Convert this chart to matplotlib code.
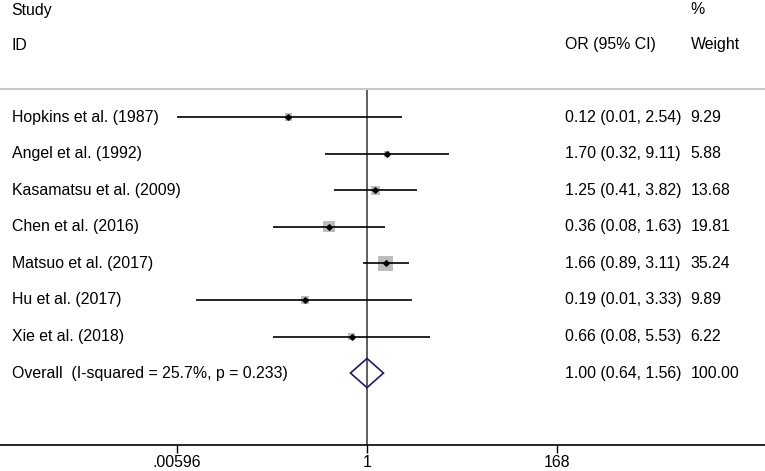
import numpy as np
import matplotlib
matplotlib.use("Agg")
import matplotlib.pyplot as plt
import matplotlib.ticker as ticker
from matplotlib.patches import Polygon
from matplotlib.transforms import blended_transform_factory

plt.rcParams['font.family'] = ['Liberation Sans', 'DejaVu Sans']

# --- data ---
studies = ["Hopkins et al. (1987)", "Angel et al. (1992)", "Kasamatsu et al. (2009)",
           "Chen et al. (2016)", "Matsuo et al. (2017)", "Hu et al. (2017)",
           "Xie et al. (2018)"]
or_est = [0.12, 1.70, 1.25, 0.36, 1.66, 0.19, 0.66]
ci_low = [0.00596, 0.32, 0.41, 0.08, 0.89, 0.01, 0.08]
ci_high = [2.54, 9.11, 3.82, 1.63, 3.11, 3.33, 5.53]
weights = [9.29, 5.88, 13.68, 19.81, 35.24, 9.89, 6.22]

overall_label = "Overall  (I-squared = 25.7%, p = 0.233)"
overall_est = 1.00
overall_low = 0.64
overall_high = 1.56
overall_weight = 100.00

x_ticks = [0.00596, 1, 168]
x_ticklabels = [".00596", "1", "168"]

# --- layout (pixels of a 765x471 figure) ---
W, H = 765, 471
top_px, bot_px = 89, 445
row0_px, row_step = 117.2, 36.55
px_per_dec = 380 / (np.log10(168) - np.log10(0.00596))
one_px = 367.0

fig = plt.figure(figsize=(W / 100, H / 100), dpi=100)
ax = fig.add_axes([0, 1 - bot_px / H, 1, (bot_px - top_px) / H])
ax.set_xscale('log')
ax.set_xlim(10 ** ((0 - one_px) / px_per_dec), 10 ** ((W - one_px) / px_per_dec))
ax.set_ylim((bot_px - row0_px) / row_step, (top_px - row0_px) / row_step)

fs = 11.4
n = len(studies)
rows = np.arange(n)

# null line
ax.axvline(1, color='#333333', lw=1.1, zorder=1)

# weighted boxes
box_side_pt = 2.53 * 0.72 * np.sqrt(np.array(weights))
ax.scatter(or_est, rows, s=box_side_pt ** 2, marker='s', color='#bdbdbd',
           edgecolor='none', zorder=2)
# CI lines
ax.hlines(rows, ci_low, ci_high, color='black', lw=1.2, zorder=3)
# point estimates
ax.plot(or_est, rows, 'D', color='black', ms=2.8, zorder=4)

# overall diamond
yo = n
h = 0.4
diamond = Polygon([(overall_low, yo), (overall_est, yo - h), (overall_high, yo),
                   (overall_est, yo + h)], closed=True, facecolor='none',
                  edgecolor='#1c1c6b', lw=1.2, zorder=5)
ax.add_patch(diamond)

# text columns
trans = blended_transform_factory(fig.transFigure, ax.transData)
labels = studies + [overall_label]
ests = or_est + [overall_est]
lows = ci_low + [overall_low]
highs = ci_high + [overall_high]
wts = weights + [overall_weight]
for i in range(n + 1):
    ax.text(11.5 / W, i, labels[i], transform=trans, fontsize=fs, va='center', ha='left')
    ax.text(565 / W, i, f"{ests[i]:.2f} ({lows[i]:.2f}, {highs[i]:.2f})",
            transform=trans, fontsize=fs, va='center', ha='left')
    ax.text(690.5 / W, i, f"{wts[i]:.2f}", transform=trans, fontsize=fs,
            va='center', ha='left')

# headers
fig.text(11.5 / W, 1 - 10 / H, "Study", fontsize=fs, va='center', ha='left')
fig.text(11.5 / W, 1 - 45 / H, "ID", fontsize=fs, va='center', ha='left')
fig.text(565 / W, 1 - 45 / H, "OR (95% CI)", fontsize=fs, va='center', ha='left')
fig.text(690.5 / W, 1 - 10 / H, "%", fontsize=fs, va='center', ha='left')
fig.text(690.5 / W, 1 - 45 / H, "Weight", fontsize=fs, va='center', ha='left')

# axes styling
for side in ['left', 'right']:
    ax.spines[side].set_visible(False)
ax.spines['top'].set_color('#c8c8c8')
ax.spines['top'].set_linewidth(1.5)
ax.spines['bottom'].set_color('black')
ax.spines['bottom'].set_linewidth(1.2)
ax.set_yticks([])
ax.set_xticks(x_ticks)
ax.set_xticklabels(x_ticklabels, fontsize=fs)
ax.xaxis.set_minor_locator(ticker.NullLocator())
ax.tick_params(axis='x', direction='out', length=6, width=1, pad=1.5)

fig.savefig("out.png", dpi=100)
